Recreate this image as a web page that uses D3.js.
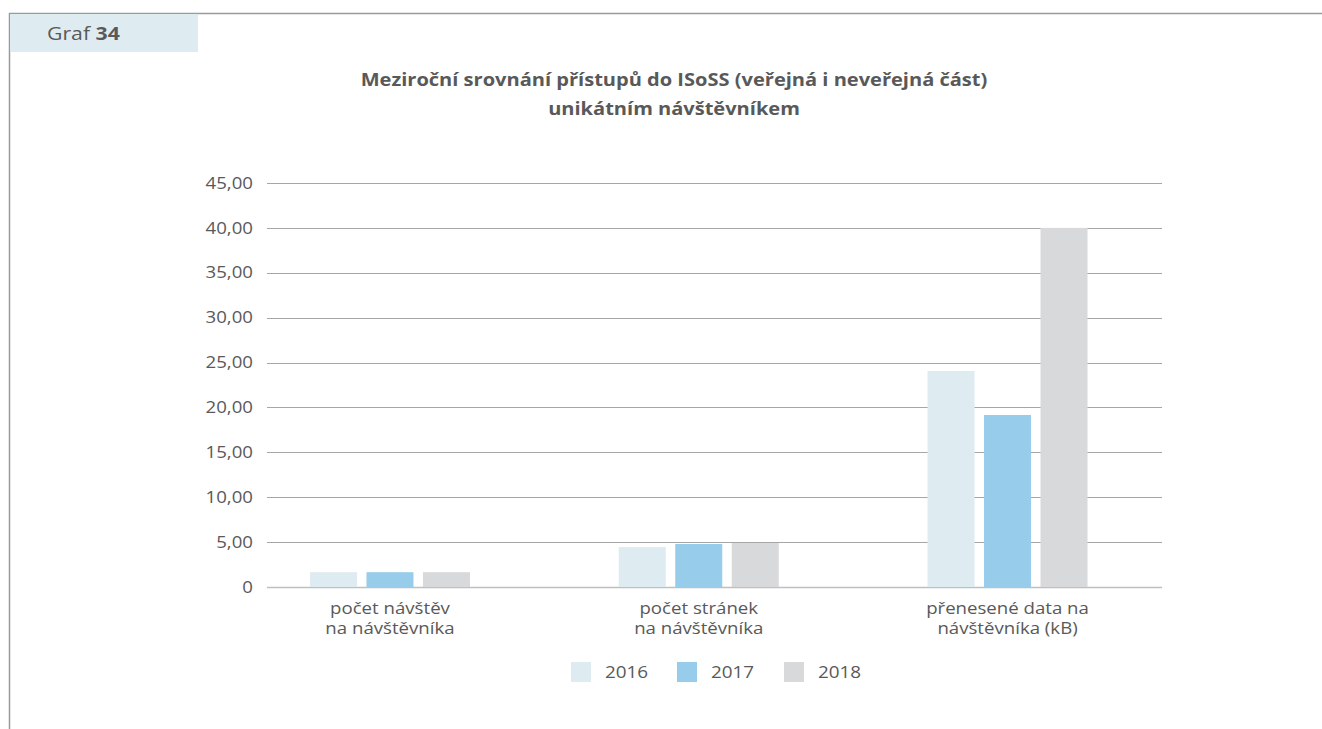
<!DOCTYPE html>
<html lang="cs">
<head>
<meta charset="utf-8">
<script src="https://cdn.jsdelivr.net/npm/d3@7"></script>
<style>
  html, body { margin: 0; padding: 0; background: #fff; }
  svg { display: block; font-family: "Open Sans", "Lato", sans-serif; }
</style>
</head>
<body>
<svg id="chart" width="1322" height="729"></svg>
<script>
// Data
const categories = [
  ["počet návštěv", "na návštěvníka"],
  ["počet stránek", "na návštěvníka"],
  ["přenesené data na", "návštěvníka (kB)"]
];
const years = ["2016", "2017", "2018"];
const values2016 = [1.65, 4.45, 24.06];
const values2017 = [1.65, 4.79, 19.16];
const values2018 = [1.65, 4.90, 40.00];
const yTicks = [0, 5, 10, 15, 20, 25, 30, 35, 40, 45];
const colors = ["#deecf1", "#97cdeb", "#d8d9db"];

const series = [values2016, values2017, values2018];
const svg = d3.select("#chart");
const textColor = "#595959";
const widen = 1.18; // horizontal stretch of the lettering

// Places a text whose glyphs are widened horizontally around its anchor point
function label(parent, x, y, size, anchor) {
  return parent.append("g")
    .attr("transform", `translate(${x},${y}) scale(${widen},1)`)
    .append("text")
    .attr("text-anchor", anchor || "start")
    .attr("font-size", size)
    .attr("fill", textColor);
}

// Frame and caption tab
svg.append("line").attr("x1", 9).attr("x2", 1322).attr("y1", 13.5).attr("y2", 13.5)
  .attr("stroke", "#9a9a9a").attr("stroke-width", 1.5);
svg.append("line").attr("x1", 9.5).attr("x2", 9.5).attr("y1", 13).attr("y2", 729)
  .attr("stroke", "#9a9a9a").attr("stroke-width", 1.5);
svg.append("rect").attr("x", 10).attr("y", 14).attr("width", 188).attr("height", 38)
  .attr("fill", "#deecf1");
const cap = label(svg, 47, 40, 18);
cap.append("tspan").text("Graf ");
cap.append("tspan").attr("font-weight", "bold").text("34");

// Title
label(svg, 674, 86, 17, "middle").attr("font-weight", "bold")
  .text("Meziroční srovnání přístupů do ISoSS (veřejná i neveřejná část)");
label(svg, 674, 115, 17, "middle").attr("font-weight", "bold")
  .text("unikátním návštěvníkem");

// Scales
const y = d3.scaleLinear().domain([0, 45]).range([587, 183]);
const x0 = d3.scaleBand().domain(d3.range(categories.length)).range([235.6, 1161.9]);
const x1 = d3.scaleBand().domain(d3.range(years.length)).range([-80, 80]).paddingInner(0.168);

// Gridlines
const gridL = 267, gridR = 1162;
svg.append("g").selectAll("line").data(yTicks).join("line")
  .attr("x1", gridL).attr("x2", gridR)
  .attr("y1", d => Math.round(y(d)) + 0.5).attr("y2", d => Math.round(y(d)) + 0.5)
  .attr("stroke", d => d === 0 ? "#bfbfbf" : "#a6a6a6").attr("stroke-width", d => d === 0 ? 1.5 : 1);

// Y axis labels
const fmt = v => v === 0 ? "0" : d3.format(".2f")(v).replace(".", ",");
yTicks.forEach(t => {
  label(svg, 253, y(t), 15.8, "end").attr("dy", "0.36em").text(fmt(t));
});

// Bars
const groups = svg.append("g").selectAll("g").data(categories).join("g")
  .attr("transform", (d, i) => `translate(${x0(i) + x0.bandwidth() / 2},0)`);
groups.selectAll("rect").data((d, i) => series.map((s, k) => ({ k, v: s[i] }))).join("rect")
  .attr("x", d => x1(d.k)).attr("width", x1.bandwidth())
  .attr("y", d => y(d.v)).attr("height", d => y(0) - y(d.v))
  .attr("fill", d => colors[d.k]);

// Category labels
groups.each(function (lines) {
  const g = d3.select(this);
  lines.forEach((line, j) => {
    label(g, 0, 614 + j * 19.5, 15.8, "middle").text(line);
  });
});

// Legend
const legendX = [571, 677, 784];
years.forEach((yr, i) => {
  svg.append("rect").attr("x", legendX[i]).attr("y", 662).attr("width", 20).attr("height", 20)
    .attr("fill", colors[i]);
  label(svg, legendX[i] + 34, 672, 16, "start").attr("dy", "0.36em").text(yr);
});
</script>
</body>
</html>
